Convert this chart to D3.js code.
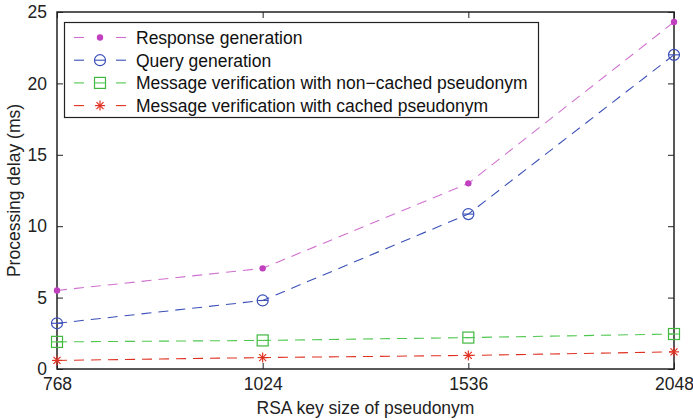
<!DOCTYPE html>
<html>
<head>
<meta charset="utf-8">
<script src="https://cdn.jsdelivr.net/npm/d3@7"></script>
<style>
  body { margin: 0; background: #fff; }
  text { font-family: "Liberation Sans", Arial, sans-serif; }
</style>
</head>
<body>
<svg width="693" height="420"></svg>
<script>
// Data
const keySizes = ["768", "1024", "1536", "2048"];
const responseGen = [5.5, 7.05, 13.0, 24.3];
const queryGen = [3.2, 4.8, 10.85, 22.0];
const verifyNonCached = [1.9, 2.0, 2.2, 2.45];
const verifyCached = [0.6, 0.8, 0.95, 1.2];
const yTicks = [0, 5, 10, 15, 20, 25];

const series = [
    { name: "Response generation", values: responseGen, color: "#c040c0", line: "#d070d0", marker: "dot" },
    { name: "Query generation", values: queryGen, color: "#3a4fb8", line: "#3a4fb8", marker: "circle" },
    { name: "Message verification with non\u2212cached pseudonym", values: verifyNonCached, color: "#40b840", line: "#50c850", marker: "square" },
    { name: "Message verification with cached pseudonym", values: verifyCached, color: "#e03020", line: "#e03020", marker: "star" }
];

const plotLeft = 57, plotRight = 674, plotTop = 12, plotBottom = 369;
const svg = d3.select("svg");

const x = d3.scalePoint().domain(keySizes).range([plotLeft, plotRight]);
const y = d3.scaleLinear().domain([0, 25]).range([plotBottom, plotTop]);

// Frame
svg.append("rect")
    .attr("x", plotLeft).attr("y", plotTop)
    .attr("width", plotRight - plotLeft).attr("height", plotBottom - plotTop)
    .attr("fill", "none").attr("stroke", "#222").attr("stroke-width", 1.5);

// Axes (ticks inward)
const fontSize = 17.5;
svg.append("g").attr("transform", `translate(0,${plotBottom})`)
    .call(d3.axisBottom(x).tickSizeInner(-6).tickSizeOuter(0).tickPadding(9))
    .call(g => g.select(".domain").remove())
    .call(g => g.selectAll("line").attr("stroke", "#222"))
    .call(g => g.selectAll("text").attr("font-size", fontSize).attr("fill", "#222"));
svg.append("g").attr("transform", `translate(0,${plotTop})`)
    .call(d3.axisTop(x).tickSizeInner(-6).tickSizeOuter(0).tickFormat(""))
    .call(g => g.select(".domain").remove())
    .call(g => g.selectAll("line").attr("stroke", "#222"));
svg.append("g").attr("transform", `translate(${plotLeft},0)`)
    .call(d3.axisLeft(y).tickValues(yTicks).tickSizeInner(-6).tickSizeOuter(0).tickPadding(10))
    .call(g => g.select(".domain").remove())
    .call(g => g.selectAll("line").attr("stroke", "#222"))
    .call(g => g.selectAll("text").attr("font-size", fontSize).attr("fill", "#222"));
svg.append("g").attr("transform", `translate(${plotRight},0)`)
    .call(d3.axisRight(y).tickValues(yTicks).tickSizeInner(-6).tickSizeOuter(0).tickFormat(""))
    .call(g => g.select(".domain").remove())
    .call(g => g.selectAll("line").attr("stroke", "#222"));

// Axis labels
svg.append("text")
    .attr("x", (plotLeft + plotRight) / 2).attr("y", 414)
    .attr("text-anchor", "middle").attr("font-size", fontSize).attr("fill", "#222")
    .text("RSA key size of pseudonym");
svg.append("text")
    .attr("transform", `translate(20,${(plotTop + plotBottom) / 2}) rotate(-90)`)
    .attr("text-anchor", "middle").attr("font-size", fontSize).attr("fill", "#222")
    .text("Processing delay (ms)");

function drawMarker(g, type, color, lineColor) {
    if (type === "dot") {
        g.append("circle").attr("r", 3.2).attr("fill", color);
    } else if (type === "circle") {
        g.append("circle").attr("r", 5.5).attr("fill", "none").attr("stroke", color).attr("stroke-width", 1.2);
    } else if (type === "square") {
        g.append("rect").attr("x", -5.5).attr("y", -5.5).attr("width", 11).attr("height", 11)
            .attr("fill", "none").attr("stroke", color).attr("stroke-width", 1.2);
    } else if (type === "star") {
        const s = 5;
        [[-s, 0, s, 0], [0, -s, 0, s], [-s * 0.7, -s * 0.7, s * 0.7, s * 0.7], [-s * 0.7, s * 0.7, s * 0.7, -s * 0.7]]
            .forEach(d => g.append("line")
                .attr("x1", d[0]).attr("y1", d[1]).attr("x2", d[2]).attr("y2", d[3])
                .attr("stroke", color).attr("stroke-width", 1.2));
    }
    // the line passes through hollow markers
    if (type === "square" || type === "circle") {
        g.append("line").attr("x1", -5.5).attr("x2", 5.5).attr("stroke", lineColor).attr("stroke-width", 1.1);
    }
}

// Lines and markers
const line = d3.line().x((d, i) => x(keySizes[i])).y(d => y(d));
series.forEach(s => {
    svg.append("path")
        .attr("d", line(s.values))
        .attr("fill", "none")
        .attr("stroke", s.line)
        .attr("stroke-width", 1.1)
        .attr("stroke-dasharray", "10,7");
    s.values.forEach((v, i) => {
        const g = svg.append("g").attr("transform", `translate(${x(keySizes[i])},${y(v)})`);
        drawMarker(g, s.marker, s.color, s.line);
    });
});

// Legend
const lg = svg.append("g");
lg.append("rect")
    .attr("x", 64.5).attr("y", 22.5).attr("width", 474).attr("height", 95)
    .attr("fill", "#fff").attr("stroke", "#222").attr("stroke-width", 1.2);
series.forEach((s, i) => {
    const yy = 37.5 + i * 22.7;
    lg.append("line").attr("x1", 74).attr("x2", 84).attr("y1", yy).attr("y2", yy).attr("stroke", s.line).attr("stroke-width", 1.1);
    lg.append("line").attr("x1", 116).attr("x2", 126).attr("y1", yy).attr("y2", yy).attr("stroke", s.line).attr("stroke-width", 1.1);
    const m = lg.append("g").attr("transform", `translate(100,${yy})`);
    drawMarker(m, s.marker, s.color, s.line);
    lg.append("text").attr("x", 136).attr("y", yy + 6.5)
        .attr("font-size", fontSize).attr("fill", "#111").text(s.name);
});
</script>
</body>
</html>
